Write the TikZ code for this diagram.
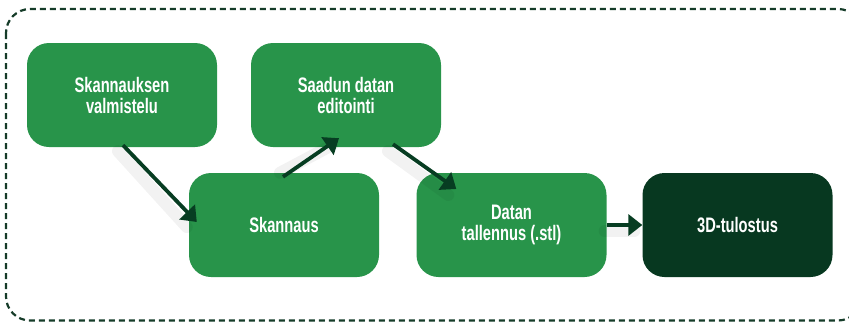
\documentclass[tikz,border=0pt]{standalone}
\usepackage{fontspec}
\setmainfont[FakeStretch=0.7]{Liberation Sans}
\usetikzlibrary{arrows.meta,calc}
\definecolor{boxgreen}{HTML}{28944A}
\definecolor{boxdark}{HTML}{073820}
\definecolor{arrowgreen}{HTML}{073D22}
\definecolor{bordergreen}{HTML}{163C29}
\begin{document}
\begin{tikzpicture}[x=1pt,y=-1pt,
  stepbox/.style={draw=none,fill=boxgreen,rounded corners=22pt,minimum width=190pt,minimum height=104pt,
    inner sep=0pt,text=white,align=center,font=\bfseries\fontsize{21}{21}\selectfont},
  darkbox/.style={stepbox,fill=boxdark},
  flow/.style={draw=arrowgreen,line width=3.8pt,-{Triangle[length=14pt,width=21pt]}},
  shade/.style={draw=black,line width=12pt,opacity=0.05,line cap=round}]
\useasboundingbox (0,0) rectangle (849,322);
\draw[bordergreen,line width=2.2pt,dash pattern=on 6pt off 4pt,rounded corners=24pt] (6,9) rectangle (862,320.5);
\node[stepbox] (b1) at (122,95) {Skannauksen\\valmistelu};
\node[stepbox] (b2) at (346,95) {Saadun datan\\editointi};
\node[stepbox] (b3) at (284,225) {Skannaus};
\node[stepbox] (b4) at (511.5,225) {Datan\\tallennus (.stl)};
\node[darkbox] (b5) at (737.5,225) {3D-tulostus};
% soft shadows
\draw[shade] ($(b1.south)+(-4,4)$) -- ($(b3.west)+(-2,2)$);
\draw[shade] ($(b3.north)+(-4,0)$) -- ($(b2.south)+(-14,-2)$);
\draw[shade] ($(b2.south)+(42,4)$) -- ($(b4.west)+(32,-30)$);
\draw[shade] ($(b4.east)+(-2,6)$) -- ($(b5.west)+(-8,6)$);
% arrows
\draw[flow] ($(b1.south)+(1,-2)$) -- ($(b3.west)+(8,-3)$);
\draw[flow] ($(b3.north)+(-1,4)$) -- ($(b2.south)+(-7,-9)$);
\draw[flow] ($(b2.south)+(47,-3)$) -- ($(b4.west)+(40,-36)$);
\draw[flow] (b4.east) -- (b5.west);
\end{tikzpicture}
\end{document}
